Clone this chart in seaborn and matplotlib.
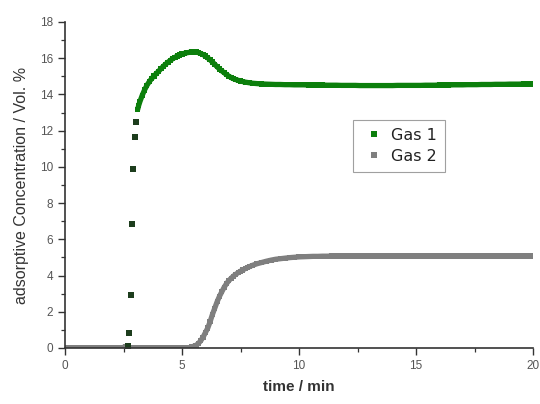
import matplotlib
matplotlib.use("Agg")
import matplotlib.pyplot as plt
import seaborn as sns
import pandas as pd
from matplotlib.ticker import AutoMinorLocator

# ---- data ----
time_gas1 = [0.0, 0.2, 0.4, 0.6, 0.8, 1.0, 1.2, 1.4, 1.6, 1.8, 2.0, 2.2, 2.4, 2.6,
             2.68, 2.74, 2.80, 2.86, 2.92, 2.98, 3.04, 3.10, 3.15,
             3.2, 3.3, 3.4, 3.5, 3.6, 3.7, 3.8, 3.9, 4.0, 4.1, 4.2, 4.3, 4.4, 4.5,
             4.6, 4.7, 4.8, 4.9, 5.0, 5.1, 5.2, 5.3, 5.4, 5.5, 5.6, 5.7, 5.8, 5.9,
             6.0, 6.1, 6.2, 6.3, 6.4, 6.5, 6.6, 6.7, 6.8, 6.9, 7.0, 7.1, 7.2, 7.3,
             7.4, 7.5, 7.6, 7.7, 7.8, 7.9, 8.0,
             8.2, 8.4, 8.6, 8.8, 9.0, 9.2, 9.4, 9.6, 9.8, 10.0, 10.2, 10.4, 10.6,
             10.8, 11.0, 11.2, 11.4, 11.6, 11.8, 12.0, 12.2, 12.4, 12.6, 12.8, 13.0,
             13.2, 13.4, 13.6, 13.8, 14.0, 14.2, 14.4, 14.6, 14.8, 15.0, 15.2, 15.4,
             15.6, 15.8, 16.0, 16.2, 16.4, 16.6, 16.8, 17.0, 17.2, 17.4, 17.6, 17.8,
             18.0, 18.2, 18.4, 18.6, 18.8, 19.0, 19.2, 19.4, 19.6, 19.8, 20.0]
conc_gas1 = [0, 0, 0, 0, 0, 0, 0, 0, 0, 0, 0, 0, 0, 0,
             0.1, 0.83, 2.9, 6.85, 9.9, 11.65, 12.5, 13.15, 13.4,
             13.6, 13.95, 14.25, 14.5, 14.7, 14.87, 15.02, 15.15, 15.28, 15.42, 15.55, 15.67, 15.78, 15.88,
             15.97, 16.05, 16.12, 16.18, 16.23, 16.27, 16.3, 16.32, 16.34, 16.35, 16.34, 16.31, 16.26, 16.2,
             16.12, 16.02, 15.91, 15.79, 15.66, 15.53, 15.41, 15.3, 15.2, 15.1, 15.01, 14.93, 14.87, 14.82,
             14.78, 14.74, 14.71, 14.68, 14.66, 14.64, 14.62,
             14.6, 14.58, 14.57, 14.56, 14.55, 14.55, 14.54, 14.54, 14.53, 14.53, 14.53, 14.52, 14.52,
             14.52, 14.52, 14.51, 14.51, 14.51, 14.5, 14.5, 14.5, 14.5, 14.49, 14.49, 14.49,
             14.49, 14.49, 14.49, 14.49, 14.49, 14.5, 14.5, 14.5, 14.5, 14.5, 14.5, 14.51,
             14.51, 14.51, 14.52, 14.52, 14.52, 14.53, 14.53, 14.53, 14.54, 14.54, 14.54, 14.55,
             14.55, 14.55, 14.56, 14.56, 14.56, 14.57, 14.57, 14.57, 14.58, 14.58, 14.58]

time_gas2 = [0.0, 0.2, 0.4, 0.6, 0.8, 1.0, 1.2, 1.4, 1.6, 1.8, 2.0, 2.2, 2.4, 2.6,
             2.8, 3.0, 3.2, 3.4, 3.6, 3.8, 4.0, 4.2, 4.4, 4.6, 4.8, 5.0, 5.2,
             5.3, 5.4, 5.5, 5.6, 5.7, 5.8, 5.9, 6.0, 6.1, 6.2, 6.3, 6.4, 6.5, 6.6,
             6.7, 6.8, 6.9, 7.0, 7.1, 7.2, 7.3, 7.4, 7.5, 7.6, 7.7, 7.8, 7.9, 8.0,
             8.2, 8.4, 8.6, 8.8, 9.0, 9.2, 9.4, 9.6, 9.8, 10.0, 10.2, 10.4, 10.6,
             10.8, 11.0, 11.2, 11.4, 11.6, 11.8, 12.0, 12.2, 12.4, 12.6, 12.8, 13.0,
             13.2, 13.4, 13.6, 13.8, 14.0, 14.2, 14.4, 14.6, 14.8, 15.0, 15.2, 15.4,
             15.6, 15.8, 16.0, 16.2, 16.4, 16.6, 16.8, 17.0, 17.2, 17.4, 17.6, 17.8,
             18.0, 18.2, 18.4, 18.6, 18.8, 19.0, 19.2, 19.4, 19.6, 19.8, 20.0]
conc_gas2 = [0, 0, 0, 0, 0, 0, 0, 0, 0, 0, 0, 0, 0, 0.08,
             0, 0, 0, 0, 0, 0, 0, 0, 0, 0, 0, 0, 0,
             0.02, 0.05, 0.1, 0.15, 0.25, 0.4, 0.6, 0.85, 1.1, 1.45, 1.85, 2.2, 2.55, 2.85,
             3.1, 3.35, 3.55, 3.72, 3.85, 3.97, 4.07, 4.16, 4.24, 4.31, 4.38, 4.45, 4.5, 4.56,
             4.65, 4.72, 4.79, 4.85, 4.9, 4.93, 4.96, 4.99, 5.01, 5.03, 5.04, 5.05, 5.06,
             5.06, 5.07, 5.07, 5.08, 5.08, 5.08, 5.08, 5.08, 5.08, 5.08, 5.08, 5.08,
             5.08, 5.08, 5.08, 5.08, 5.08, 5.08, 5.08, 5.08, 5.08, 5.08, 5.08, 5.08,
             5.08, 5.08, 5.08, 5.08, 5.08, 5.08, 5.08, 5.08, 5.08, 5.08, 5.08, 5.08,
             5.08, 5.08, 5.08, 5.08, 5.08, 5.08, 5.08, 5.08, 5.08, 5.08, 5.08]

series_names = ["Gas 1", "Gas 2"]
series_colors = ["#0c7f0c", "#7f7f7f"]
x_ticks = [0, 5, 10, 15, 20]
y_ticks = [0, 2, 4, 6, 8, 10, 12, 14, 16, 18]
gas1_curve_start = 3.1   # after this time the samples merge into a continuous band

df = pd.concat([
    pd.DataFrame({"time": time_gas1, "conc": conc_gas1, "gas": series_names[0]}),
    pd.DataFrame({"time": time_gas2, "conc": conc_gas2, "gas": series_names[1]}),
], ignore_index=True)

band = df[(df.gas == series_names[1]) | (df.time >= gas1_curve_start)]
sparse = df[(df.gas == series_names[0]) & (df.time < gas1_curve_start) & (df.conc > 0.05)]

sns.set_style("ticks")
plt.rcParams["font.family"] = ["Liberation Sans", "DejaVu Sans"]

fig = plt.figure(figsize=(5.4, 4.04), dpi=100)
ax = fig.add_axes([65 / 540, 1 - 348 / 404, 468 / 540, 326 / 404])

for name, col in zip(series_names, series_colors):
    sns.lineplot(data=band[band.gas == name], x="time", y="conc", color=col,
                 linewidth=3.8, ax=ax, legend=False, zorder=2, estimator=None,
                 sort=False, solid_capstyle="butt")

sns.scatterplot(data=df, x="time", y="conc", hue="gas", palette=series_colors,
                marker="s", s=14, linewidth=0, ax=ax, zorder=3)
# isolated early samples look darker in the reference
sns.scatterplot(data=sparse, x="time", y="conc", color="#1d3d1d", marker="s",
                s=14, linewidth=0, ax=ax, zorder=3, legend=False)

ax.set_xlim(0, 20)
ax.set_ylim(0, 18)
ax.set_xticks(x_ticks)
ax.set_yticks(y_ticks)
ax.xaxis.set_minor_locator(AutoMinorLocator(2))
ax.yaxis.set_minor_locator(AutoMinorLocator(2))
ax.tick_params(which="major", direction="out", length=5, width=1.0,
               colors="#333333", labelsize=8.5, labelcolor="#555555")
ax.tick_params(which="minor", direction="out", length=3, width=0.9, colors="#333333")
for side in ["left", "bottom"]:
    ax.spines[side].set_linewidth(1.2)
    ax.spines[side].set_color("#333333")
    ax.spines[side].set_zorder(4)
sns.despine(ax=ax)

ax.set_xlabel("time / min", fontsize=11, fontweight="bold", color="#333333", labelpad=6)
ax.set_ylabel("adsorptive Concentration / Vol. %", fontsize=11.5, color="#333333", labelpad=8)

sns.move_legend(ax, loc="upper left", bbox_to_anchor=(353 / 540, 1 - 120 / 404),
                bbox_transform=fig.transFigure, borderaxespad=0, title=None,
                frameon=True, fancybox=False, edgecolor="#888888",
                prop={"family": "DejaVu Sans", "size": 11.5},
                handletextpad=0.3, labelspacing=0.35, borderpad=0.5,
                handlelength=1.6, markerscale=1.3)
leg = ax.get_legend()
leg.get_frame().set_linewidth(0.8)
for t in leg.get_texts():
    t.set_color("#222222")

fig.savefig("out.png", dpi=100)
